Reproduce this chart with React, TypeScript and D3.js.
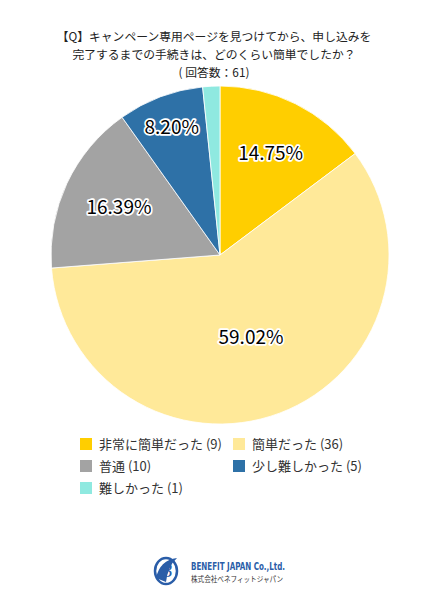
import React from "react";
import * as d3 from "d3";

const categories = ["非常に簡単だった", "簡単だった", "普通", "少し難しかった", "難しかった"];
const counts = [9, 36, 10, 5, 1];
const colors = ["#FFCE00", "#FFE999", "#A3A3A3", "#2E71A7", "#8FE9E0"];
const labelRadiusFactor = [0.67, 0.52, 0.66, 0.81, 0.8];
const titleLines = [
  "【Q】キャンペーン専用ページを見つけてから、申し込みを",
  "完了するまでの手続きは、どのくらい簡単でしたか？",
  "( 回答数：61)",
];

const W = 440;
const H = 600;
const cx = 220;
const cy = 255;
const R = 169;
const font = "'Noto Sans CJK JP', 'Noto Sans', sans-serif";

export default function App() {
  const total = d3.sum(counts);
  const pie = d3.pie<number>().sort(null).value((d) => d)(counts);
  const arc = d3.arc<d3.PieArcDatum<number>>().innerRadius(0).outerRadius(R);

  const legendItems = categories.map((c, i) => ({
    label: `${c} (${counts[i]})`,
    color: colors[i],
    col: i % 2,
    row: Math.floor(i / 2),
  }));

  return (
    <svg width={W} height={H} style={{ position: "absolute", left: 0, top: 0, background: "#fff" }}>
      <rect width={W} height={H} fill="#fff" />
      {titleLines.map((t, i) => (
        <text key={i} x={214} y={41 + i * 18} textAnchor="middle" fontFamily={font} fontSize={11.8} fill="#222">
          {t}
        </text>
      ))}
      <g transform={`translate(${cx},${cy})`}>
        {pie.map((p, i) => (
          <path key={i} d={arc(p) as string} fill={colors[i]} stroke="#fff" strokeWidth={0.8} />
        ))}
        {pie.map((p, i) => {
          if (counts[i] / total < 0.05) return null;
          const a = (p.startAngle + p.endAngle) / 2;
          const r = R * labelRadiusFactor[i];
          const x = Math.sin(a) * r;
          const y = -Math.cos(a) * r;
          const txt = ((counts[i] / total) * 100).toFixed(2) + "%";
          return (
            <text
              key={"l" + i}
              x={x}
              y={y}
              dy="0.35em"
              textAnchor="middle"
              fontFamily={font}
              fontSize={19}
              fill="#000"
              stroke="#fff"
              strokeWidth={3.5}
              strokeLinejoin="round"
              paintOrder="stroke"
            >
              {txt}
            </text>
          );
        })}
      </g>
      {legendItems.map((it, i) => {
        const x = 80 + it.col * 153;
        const y = 438 + it.row * 22;
        return (
          <g key={i}>
            <rect x={x} y={y} width={12} height={12} fill={it.color} />
            <text x={x + 19} y={y + 11} fontFamily={font} fontSize={13} fill="#333">
              {it.label}
            </text>
          </g>
        );
      })}
      <g>
        <ellipse cx={166} cy={571} rx={11} ry={13} fill="#fff" stroke="#2a5da8" strokeWidth={2.5} />
        <path d="M156,578 Q160,560 177,558 Q168,566 166,582 Z" fill="#2a5da8" />
        <text x={161} y={577} fontFamily="Georgia, serif" fontStyle="italic" fontSize={18} fill="#2a5da8">
          B
        </text>
        <text x={191} y={570} fontFamily="'Liberation Sans Narrow', 'DejaVu Sans Condensed', sans-serif" fontWeight="bold" fontSize={11} fill="#2a5da8" textLength={94} lengthAdjust="spacingAndGlyphs">
          BENEFIT JAPAN Co.,Ltd.
        </text>
        <text x={191} y={582} fontFamily={font} fontSize={7.5} fill="#333" textLength={92} lengthAdjust="spacingAndGlyphs">
          株式会社ベネフィットジャパン
        </text>
      </g>
    </svg>
  );
}
